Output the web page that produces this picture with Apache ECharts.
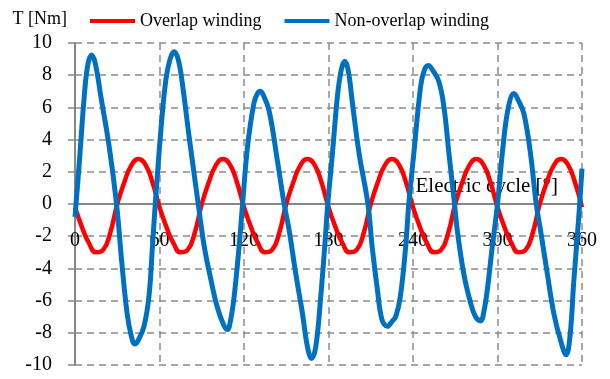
<!DOCTYPE html>
<html>
<head>
<meta charset="utf-8">
<script src="https://cdn.jsdelivr.net/npm/echarts@6/dist/echarts.min.js"></script>
<style>
  html, body { margin: 0; padding: 0; background: #ffffff; }
  #chart { width: 610px; height: 379px; }
</style>
</head>
<body>
<div id="chart"></div>
<script>
// Torque over one electric cycle for two winding layouts.

// Overlap winding: torque [Nm] sampled every 5 degrees from 0 to 360.
const overlapDeg = [
  0, 5, 10, 15, 20, 25, 30, 35, 40, 45, 50, 55,
  60, 65, 70, 75, 80, 85, 90, 95, 100, 105, 110, 115,
  120, 125, 130, 135, 140, 145, 150, 155, 160, 165, 170, 175,
  180, 185, 190, 195, 200, 205, 210, 215, 220, 225, 230, 235,
  240, 245, 250, 255, 260, 265, 270, 275, 280, 285, 290, 295,
  300, 305, 310, 315, 320, 325, 330, 335, 340, 345, 350, 355,
  360
];
const overlapT = [
  -0.2, -1.45, -2.45, -3.0, -2.85, -1.8, 0.0, 1.35, 2.4, 2.8, 2.45, 1.35,
  -0.2, -1.45, -2.45, -3.0, -2.85, -1.8, 0.0, 1.35, 2.4, 2.8, 2.45, 1.35,
  -0.2, -1.45, -2.45, -3.0, -2.85, -1.8, 0.0, 1.35, 2.4, 2.8, 2.45, 1.35,
  -0.2, -1.45, -2.45, -3.0, -2.85, -1.8, 0.0, 1.35, 2.4, 2.8, 2.45, 1.35,
  -0.2, -1.45, -2.45, -3.0, -2.85, -1.8, 0.0, 1.35, 2.4, 2.8, 2.45, 1.35,
  -0.2, -1.45, -2.45, -3.0, -2.85, -1.8, 0.0, 1.35, 2.4, 2.8, 2.45, 1.35,
  -0.2
];

// Non-overlap winding: torque [Nm] at the listed electric angles [deg].
const nonOverlapDeg = [
  0, 3, 6.5, 9, 11.8, 14.5, 18.4, 24.3, 29.5,
  33.3, 37, 40, 42.5, 45, 49, 52.5, 55, 57,
  61, 64.5, 67.5, 70.5, 73.5, 76.5, 81, 85.8, 87.5,
  91.7, 96.5, 101, 105.5, 108.3, 110.5, 113, 116.5, 119,
  122.5, 127, 129.5, 131.4, 133.5, 137.8, 143.7, 148.5,
  152, 156.7, 161.5, 165, 168, 171, 174.5, 177.3, 179.5,
  182.8, 186.3, 189, 191.5, 194, 197, 201.7, 208,
  211, 214.7, 218, 221.8, 225, 227.7, 231, 234.8, 237,
  240.6, 245.4, 248, 251, 254, 258.4, 262, 265.5, 269.5,
  271.4, 276, 280.9, 284.4, 288, 290.5, 292.8, 296.3, 300,
  303.9, 307.7, 311.7, 315, 318.8, 323.4, 327.5,
  330.5, 335.3, 340, 344.7, 348.7, 351.5, 354.1, 357.7, 360
];
const nonOverlapT = [
  -0.8, 2.5, 6.6, 8.6, 9.25, 8.7, 6.65, 3.55, 0,
  -3.7, -6.8, -8.2, -8.7, -8.45, -7.6, -5.75, -2.65, 0,
  4.6, 7.7, 9.0, 9.45, 8.9, 7.3, 4.2, 1.1, 0,
  -2.6, -4.7, -6.4, -7.5, -7.8, -7.2, -5.75, -2.65, 0,
  3.55, 6.25, 6.85, 7.0, 6.8, 5.8, 2.7, 0,
  -1.6, -4.3, -6.8, -8.85, -9.6, -8.85, -5.75, -2.65, 0,
  3.15, 6.65, 8.3, 8.87, 8.3, 6.25, 3.15, 0,
  -2.65, -5.3, -7.2, -7.6, -7.3, -7.0, -5.75, -2.65, 0,
  3.15, 7.3, 8.3, 8.6, 8.3, 7.6, 6.0, 3.15, 0,
  -1.6, -4.3, -6.15, -7.0, -7.26, -6.6, -5.3, -2.65, 0,
  3.55, 6.0, 6.86, 6.4, 5.6, 3.15, 0,
  -1.6, -4.3, -6.8, -8.45, -9.37, -8.2, -4.9, -0.8, 2.2
];

// Axis ticks
const xTicks = { min: 0, max: 360, step: 60 };
const yTicks = { min: -10, max: 10, step: 2 };

const seriesNames = ['Overlap winding', 'Non-overlap winding'];

function pairs(xs, ys) {
  return xs.map((x, i) => [x, ys[i]]);
}

const FONT = '"Liberation Serif", "Times New Roman", serif';
const GRID_GREY = '#8c8c8c';
const AXIS_GREY = '#868686';

// Plot area geometry; the angle axis runs along T = 0 (mid-height).
const PLOT = { left: 75, top: 43, width: 507, height: 322 };
const ZERO_SHIFT = PLOT.height / 2;

const chart = echarts.init(document.getElementById('chart'), null, { renderer: 'canvas' });

chart.setOption({
  backgroundColor: '#ffffff',
  animation: false,
  textStyle: { fontFamily: FONT, color: '#000000' },
  legend: {
    left: 85,
    top: 7,
    itemWidth: 45,
    itemHeight: 4,
    itemGap: 23,
    icon: 'rect',
    textStyle: { fontFamily: FONT, fontSize: 18, color: '#000000' },
    data: seriesNames
  },
  grid: {
    left: PLOT.left, top: PLOT.top, width: PLOT.width, height: PLOT.height,
    containLabel: false, outerBoundsMode: 'none'
  },
  xAxis: {
    type: 'value',
    position: 'bottom',
    offset: -ZERO_SHIFT,
    min: xTicks.min,
    max: xTicks.max,
    interval: xTicks.step,
    name: 'Electric cycle [°]',
    nameLocation: 'end',
    nameGap: -24,
    nameTextStyle: {
      fontFamily: FONT, fontSize: 21, color: '#000000',
      align: 'right', verticalAlign: 'bottom', padding: [0, 0, 7, 0]
    },
    axisLine: { onZero: false, lineStyle: { color: AXIS_GREY, width: 2 } },
    axisTick: { show: false },
    axisLabel: { margin: 27, fontFamily: FONT, fontSize: 20, color: '#000000' },
    splitLine: { show: true, lineStyle: { color: GRID_GREY, width: 1.5, type: [7, 5] } }
  },
  yAxis: {
    type: 'value',
    min: yTicks.min,
    max: yTicks.max,
    interval: yTicks.step,
    name: 'T [Nm]',
    nameLocation: 'end',
    nameGap: 24,
    nameTextStyle: {
      fontFamily: FONT, fontSize: 18, color: '#000000',
      align: 'right', verticalAlign: 'middle', padding: [0, 8, 0, 0]
    },
    axisLine: { show: true, onZero: false, lineStyle: { color: AXIS_GREY, width: 2 } },
    axisTick: { show: true, length: 7, lineStyle: { color: AXIS_GREY, width: 1.5 } },
    axisLabel: { margin: 23, fontFamily: FONT, fontSize: 20, color: '#000000' },
    splitLine: { show: true, lineStyle: { color: GRID_GREY, width: 1.5, type: [7, 5] } }
  },
  series: [
    {
      name: seriesNames[0],
      type: 'line',
      data: pairs(overlapDeg, overlapT),
      smooth: 0.5,
      showSymbol: false,
      symbol: 'none',
      color: '#ff0000',
      lineStyle: { color: '#ff0000', width: 4.5 },
      z: 2
    },
    {
      name: seriesNames[1],
      type: 'line',
      data: pairs(nonOverlapDeg, nonOverlapT),
      smooth: 0.4,
      showSymbol: false,
      symbol: 'none',
      color: '#0070c0',
      lineStyle: { color: '#0070c0', width: 5 },
      z: 3
    }
  ]
});
</script>
</body>
</html>
